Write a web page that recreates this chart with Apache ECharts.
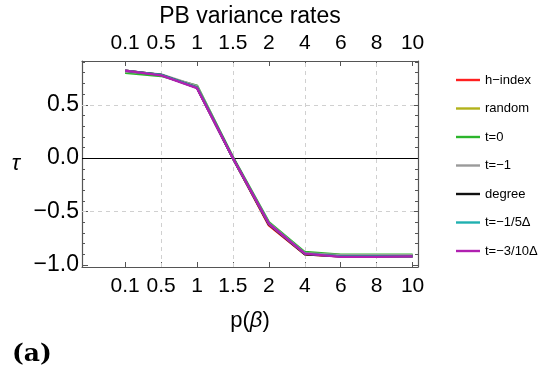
<!DOCTYPE html>
<html><head><meta charset="utf-8">
<script src="https://cdn.jsdelivr.net/npm/echarts@6/dist/echarts.min.js"></script>
<style>html,body{margin:0;padding:0;background:#fff}#c{width:545px;height:372px}</style>
</head><body><div id="c"></div>
<script>
// ---- data ----
const categories = ['0.1', '0.5', '1', '1.5', '2', '4', '6', '8', '10'];
const positions = [1, 2, 3, 4, 5, 6, 7, 8, 9];
const yTickLabels = [-1.0, -0.5, 0.0, 0.5];
const yMinorTicks = [-1.0, -0.9, -0.8, -0.7, -0.6, -0.5, -0.4, -0.3, -0.2, -0.1, 0.0, 0.1, 0.2, 0.3, 0.4, 0.5, 0.6, 0.7, 0.8, 0.9];
const seriesNames = ['h\u2212index', 'random', 't=0', 't=\u22121', 'degree', 't=\u22121/5\u0394', 't=\u22123/10\u0394'];
const hIndex   = [0.82, 0.78, 0.66, 0.00, -0.63, -0.90, -0.92, -0.92, -0.92];
const randomS  = [0.81, 0.78, 0.67, 0.00, -0.61, -0.89, -0.91, -0.91, -0.91];
const tZero    = [0.80, 0.77, 0.68, 0.01, -0.60, -0.88, -0.905, -0.905, -0.905];
const tMinus1  = [0.81, 0.785, 0.675, 0.00, -0.61, -0.89, -0.91, -0.91, -0.91];
const degree   = [0.82, 0.78, 0.66, 0.00, -0.62, -0.90, -0.92, -0.92, -0.92];
const tFifth   = [0.82, 0.78, 0.66, 0.00, -0.615, -0.895, -0.92, -0.92, -0.92];
const tThreeTen= [0.82, 0.775, 0.655, 0.00, -0.615, -0.895, -0.925, -0.925, -0.92];
const gridX = [2, 4, 6, 8];
const gridY = [0.5, -0.5];
// ---- styles ----
const colors = ['#ff2020', '#b2b21a', '#2cb52c', '#9a9a9a', '#111111', '#20b0b0', '#b020b0'];
const allValues = [hIndex, randomS, tZero, tMinus1, degree, tFifth, tThreeTen];
const FONT = 'Liberation Sans';
const frame = '#555555';
const xFmt = v => { const k = positions.indexOf(Math.round(v)); return k >= 0 ? categories[k] : ''; };
const yFmt = v => (v < -1e-9 ? '\u2212' : '') + Math.abs(v).toFixed(1);
const xMin = -0.2, xMax = 9.15, yMin = -1.02, yMax = 0.91;

const chart = echarts.init(document.getElementById('c'), null, {renderer: 'canvas'});
const series = seriesNames.map((n, k) => ({
  name: n, type: 'line', symbol: 'none', showSymbol: false,
  data: positions.map((p, i) => [p, allValues[k][i]]),
  lineStyle: {color: colors[k], width: 2.4}, itemStyle: {color: colors[k]},
  z: 3 + k
}));
series[0].markLine = {
  silent: true, symbol: 'none', label: {show: false}, animation: false,
  lineStyle: {color: '#d0d0d0', type: [4, 4], width: 1},
  data: gridX.map(x => ({xAxis: x})).concat(gridY.map(y => ({yAxis: y})))
    .concat([{yAxis: 0, lineStyle: {color: '#000', type: 'solid', width: 1}}])
};
const xBase = (pos, showLabel, margin) => ({
  type: 'value', position: pos, min: xMin, max: xMax,
  axisLine: {show: true, onZero: false, lineStyle: {color: frame, width: 1.2}},
  axisTick: {show: true, inside: true, length: 5, customValues: positions, lineStyle: {color: frame}},
  axisLabel: {show: showLabel, customValues: positions, formatter: xFmt, color: '#000', fontFamily: FONT, fontSize: 21, margin: margin},
  splitLine: {show: false}
});
const yBase = (pos, showLabel, vals, len, line) => ({
  type: 'value', position: pos, min: yMin, max: yMax,
  axisLine: {show: line, onZero: false, lineStyle: {color: frame, width: 1.2}},
  axisTick: {show: true, inside: true, length: len, customValues: vals, lineStyle: {color: frame}},
  axisLabel: {show: showLabel, customValues: yTickLabels, formatter: yFmt, color: '#000', fontFamily: FONT, fontSize: 23, margin: 3},
  splitLine: {show: false}
});
const xb = xBase('bottom', true, 9);
xb.name = 'p({b|\u03b2})'; xb.nameLocation = 'middle'; xb.nameGap = 43;
xb.nameTextStyle = {fontFamily: FONT, fontSize: 22, color: '#000',
  rich: {b: {fontFamily: FONT, fontSize: 22, fontStyle: 'italic', color: '#000'}}};
const xt = xBase('top', true, 7);
xt.name = 'PB variance rates'; xt.nameLocation = 'middle'; xt.nameGap = 31;
xt.nameTextStyle = {fontFamily: FONT, fontSize: 23, color: '#000'};
const yl = yBase('left', true, yTickLabels, 6, true);
yl.name = '\u03c4'; yl.nameLocation = 'middle'; yl.nameRotate = 0; yl.nameGap = 62;
yl.nameTextStyle = {fontFamily: FONT, fontSize: 22, fontStyle: 'italic', color: '#000'};
const ylMinor = yBase('left', false, yMinorTicks, 3, false);
const yr = yBase('right', false, yTickLabels, 6, true);
const yrMinor = yBase('right', false, yMinorTicks, 3, false);

chart.setOption({
  animation: false,
  backgroundColor: '#fff',
  grid: {left: 82, right: 127, top: 61, bottom: 105, containLabel: false, outerBoundsMode: 'none'},
  xAxis: [xb, xt],
  yAxis: [yl, ylMinor, yr, yrMinor],
  legend: {
    orient: 'vertical', left: 451, top: 68, itemWidth: 24, itemHeight: 14, itemGap: 14.5,
    icon: 'path://M0,0 L24,0 L24,2.4 L0,2.4 Z',
    textStyle: {fontFamily: FONT, fontSize: 13, color: '#000', lineHeight: 14},
    data: seriesNames
  },
  series: series,
  graphic: [{type: 'text', left: 12, top: 342, style: {text: '(a)', fontFamily: 'DejaVu Serif', fontWeight: 'bold', fontSize: 25, fill: '#000'}}]
});
</script></body></html>
